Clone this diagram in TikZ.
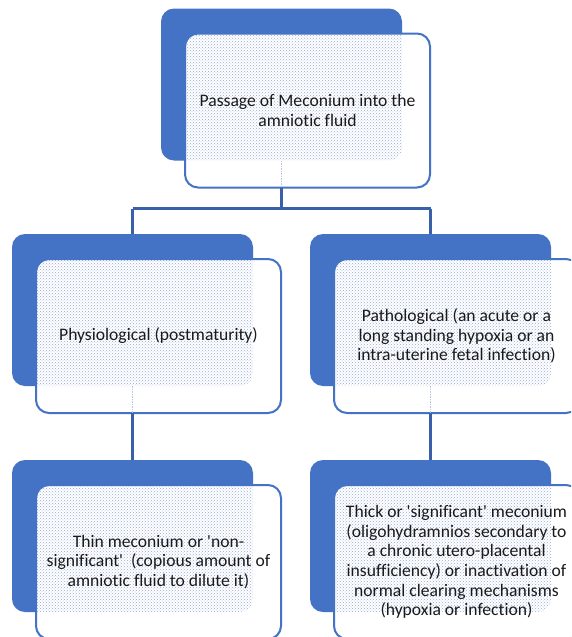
\documentclass[tikz,border=0pt]{standalone}
\usepackage{fontspec}
\setmainfont{Carlito}[Ligatures={TeXOff,CommonOff}]
\usetikzlibrary{calc,patterns}
\definecolor{accent}{HTML}{4472C4}
\definecolor{linkcol}{HTML}{3B60AA}
\definecolor{stipcol}{RGB}{150,172,215}
\definecolor{txt}{HTML}{1A1A1A}
\tikzset{
  backbox/.style={fill=accent, draw=none, rounded corners=13pt, minimum width=241pt, minimum height=152pt, inner sep=0pt, outer sep=0pt},
  frontbox/.style={fill=white, draw=none, rounded corners=13pt, minimum width=245pt, minimum height=154pt, inner sep=0pt, outer sep=0pt},
  frontborder/.style={draw=accent, line width=2pt, rounded corners=13pt},
  stip/.style={pattern=crosshatch dots, pattern color=stipcol},
  cardtext/.style={text=txt, align=center, font=\fontsize{17.6pt}{19.6pt}\selectfont, inner sep=0pt},
  link/.style={draw=linkcol, line width=2.6pt},
  ghostlink/.style={draw=linkcol!35, line width=1.5pt, densely dotted}
}
\newcommand\mycard[4]{%
  \node[backbox] (#1B) at (#2,#3) {};
  \node[frontbox] (#1F) at ($(#1B.center)+(26,26)$) {};
  \begin{scope}
    \clip[rounded corners=13pt] (#1F.south west) rectangle (#1F.north east);
    \fill[stip, rounded corners=13pt] (#1B.south west) rectangle (#1B.north east);
  \end{scope}
  \draw[frontborder] (#1F.south west) rectangle (#1F.north east);
  \node[cardtext] (#1T) at (#1F.center) {#4};
}
\begin{document}
\begin{tikzpicture}[x=1pt,y=-1pt]
\useasboundingbox (0,0) rectangle (571,637);
\fill[white] (0,0) rectangle (571,637);
\clip (0,0) rectangle (571,637);

\mycard{top}{281.5}{84.5}{Passage of Meconium into the\\amniotic fluid}
\mycard{ml}{132.5}{310}{Physiological (postmaturity)}
\mycard{mr}{430.5}{310}{Pathological (an acute or a\\long standing hypoxia or an\\intra-uterine fetal infection)}
\mycard{bl}{132.5}{536}{Thin meconium or 'non-\\significant'\ \ (copious amount of\\amniotic fluid to dilute it)}
\mycard{br}{430.5}{536}{Thick or 'significant' meconium\\(oligohydramnios secondary to\\a chronic utero-placental\\insufficiency) or inactivation of\\normal clearing mechanisms\\(hypoxia or infection)}

% faint connector segments seen through the front cards
\draw[ghostlink] (topB.south) -- (topB.south |- topF.south);
\draw[ghostlink] (mlB.south) -- (mlB.south |- mlF.south);
\draw[ghostlink] (mrB.south) -- (mrB.south |- mrF.south);

% connectors
\coordinate (topJ) at ($(topB.south |- topF.south)+(0,21)$);
\draw[link] (topB.south |- topF.south) -- (topJ);
\draw[link] (mlB.north |- topJ) -- (mrB.north |- topJ);
\draw[link] (mlB.north |- topJ) -- (mlB.north);
\draw[link] (mrB.north |- topJ) -- (mrB.north);
\draw[link] (mlB.south |- mlF.south) -- (blB.north);
\draw[link] (mrB.south |- mrF.south) -- (brB.north);
\end{tikzpicture}
\end{document}
